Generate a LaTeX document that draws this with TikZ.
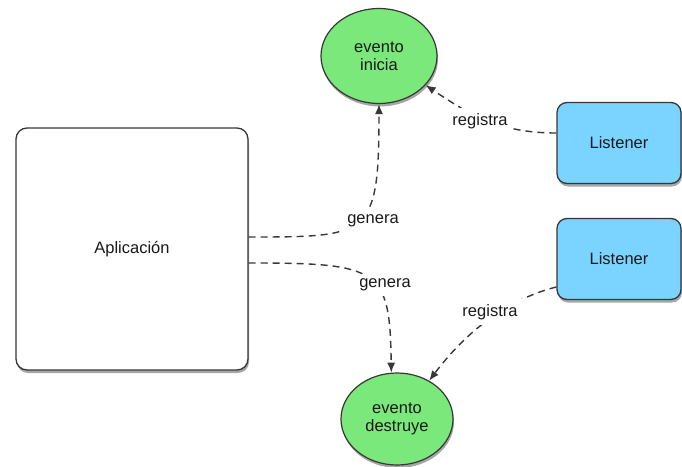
\documentclass[tikz,border=0pt]{standalone}
\usepackage{fontspec}
\setmainfont{Liberation Sans}
\usetikzlibrary{shapes.geometric,shadows,arrows.meta}
\definecolor{evgreen}{RGB}{122,232,122}
\definecolor{lsblue}{RGB}{122,212,255}
\definecolor{edgegray}{RGB}{55,55,55}
\definecolor{txtgray}{RGB}{25,25,25}
\begin{document}
\begin{tikzpicture}[x=1pt,y=-1pt,
  every node/.style={font=\fontsize{16.5}{18.5}\selectfont, text=txtgray, align=center},
  softshadow/.style={drop shadow={shadow xshift=1pt, shadow yshift=-3pt, opacity=0.35, fill=black}},
  appbox/.style={draw=edgegray, line width=1.3pt, rounded corners=11pt, fill=white,
    minimum width=232pt, minimum height=242pt, softshadow},
  eventnode/.style={ellipse, draw=edgegray, line width=1.2pt, fill=evgreen, inner sep=0pt, softshadow},
  listenerbox/.style={draw=edgegray, line width=1.3pt, rounded corners=10pt, fill=lsblue,
    minimum width=124pt, minimum height=81pt, softshadow},
  conn/.style={draw=edgegray, line width=1.4pt, dash pattern=on 7pt off 5pt,
    -{Latex[length=10pt,width=8pt]}},
  lbl/.style={fill=white, inner sep=5pt}
]
\useasboundingbox (0,0) rectangle (682,466);

% main blocks
\node[appbox] (app) at (132,249) {Aplicación};
\node[eventnode, minimum width=116pt, minimum height=95pt] (inicia) at (379,56) {evento\\inicia};
\node[eventnode, minimum width=112pt, minimum height=92pt] (destruye) at (397,419) {evento\\destruye};
\node[listenerbox] (l1) at (619,143) {Listener};
\node[listenerbox] (l2) at (619,259) {Listener};

% the application generates both events
\draw[conn] ([yshift=12pt]app.east) .. controls (370,237) and (379,237) .. (inicia.south)
  node[lbl] at (373,221) {genera};
\draw[conn] ([yshift=-14pt]app.east) .. controls (380,263) and (390,268) .. (destruye.97)
  node[lbl] at (385,285) {genera};

% listeners register on the events
\draw[conn] ([yshift=10pt]l1.west) .. controls (500,133) and (470,115) .. (inicia.-32)
  node[lbl] at (480,121) {registra};
\draw[conn] ([yshift=-28pt]l2.west) .. controls (520,296) and (475,320) .. (destruye.50)
  node[lbl] at (490,312) {registra};
\end{tikzpicture}
\end{document}
